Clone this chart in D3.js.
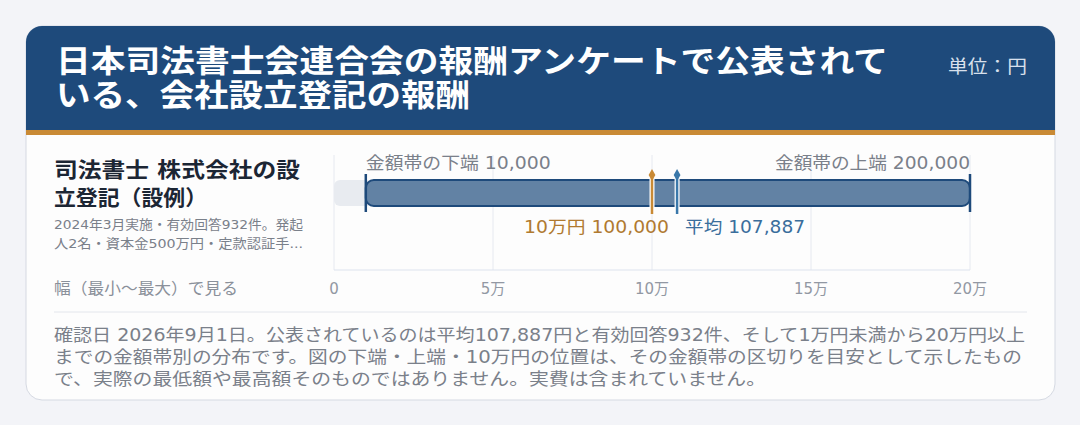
<!DOCTYPE html>
<html lang="ja">
<head>
<meta charset="UTF-8" />
<script src="https://d3js.org/d3.v7.min.js"></script>
<style>
  body { margin: 0; background: #f3f4f8; font-family: "DejaVu Sans", "Noto Sans CJK JP", sans-serif; }
</style>
</head>
<body>
<script>
  // データ
  var rangeMin = 10000
  var rangeMax = 200000
  var refValue = 100000
  var meanValue = 107887
  var ticks = [0, 50000, 100000, 150000, 200000]
  var tickLabels = ['0', '5万', '10万', '15万', '20万']
  var titleLines = ['日本司法書士会連合会の報酬アンケートで公表されて', 'いる、会社設立登記の報酬']
  var footLines = [
    '確認日 2026年9月1日。公表されているのは平均107,887円と有効回答932件、そして1万円未満から20万円以上',
    'までの金額帯別の分布です。図の下端・上端・10万円の位置は、その金額帯の区切りを目安として示したもの',
    'で、実際の最低額や最高額そのものではありません。実費は含まれていません。'
  ]

  var W = 1080, H = 425
  var svg = d3.select('body').append('svg').attr('width', W).attr('height', H)

  // 幅を合わせた文字
  function label(txt, xx, yy, size, color, len, anchor, weight) {
    var t = svg.append('text').attr('x', xx).attr('y', yy).attr('font-size', size)
      .attr('fill', color).attr('text-anchor', anchor || 'start').text(txt)
    if (weight) t.attr('font-weight', weight)
    if (len) t.attr('textLength', len).attr('lengthAdjust', 'spacingAndGlyphs')
    return t
  }

  svg.append('defs').append('clipPath').attr('id', 'card').append('rect')
    .attr('x', 26).attr('y', 26).attr('width', 1029).attr('height', 374).attr('rx', 16)

  svg.append('rect').attr('x', 26).attr('y', 26).attr('width', 1029).attr('height', 374)
    .attr('rx', 16).attr('fill', '#fdfdfd').attr('stroke', '#d5d9e2')
  var card = svg.append('g').attr('clip-path', 'url(#card)')
  card.append('rect').attr('x', 26).attr('y', 26).attr('width', 1029).attr('height', 104).attr('fill', '#1e4a7b')
  card.append('rect').attr('x', 26).attr('y', 130).attr('width', 1029).attr('height', 5).attr('fill', '#c98a35')

  label(titleLines[0], 56, 72, 31, '#fff', 832, 'start', 'bold')
  label(titleLines[1], 56, 106, 31, '#fff', 414, 'start', 'bold')
  label('単位：円', 1027, 73, 18, '#d8e0ec', 79, 'end')

  // 左側
  label('司法書士 株式会社の設', 54, 177, 21, '#1c2634', 246, 'start', 'bold')
  label('立登記（設例）', 54, 205, 21, '#1c2634', 153, 'start', 'bold')
  label('2024年3月実施・有効回答932件。発起', 54, 229, 13, '#7a808a', 249)
  label('人2名・資本金500万円・定款認証手...', 54, 248, 13, '#7a808a', 249)
  label('幅（最小〜最大）で見る', 54, 294, 16, '#8a909a', 184)

  // スケール
  var x = d3.scaleLinear().domain([0, 200000]).range([334, 970])
  var plotTop = 155, axisY = 270

  svg.selectAll('.grid').data(ticks).enter().append('line')
    .attr('x1', function (d) { return x(d) }).attr('x2', function (d) { return x(d) })
    .attr('y1', plotTop).attr('y2', axisY).attr('stroke', '#e6e9f0')
  svg.append('line').attr('x1', x(0)).attr('x2', x(200000)).attr('y1', axisY).attr('y2', axisY).attr('stroke', '#dde3ee')
  ticks.forEach(function (d, i) {
    label(tickLabels[i], x(d), 294, 15, '#9298a3', null, 'middle')
  })

  // 背景バー
  svg.append('rect').attr('x', x(0)).attr('y', 180).attr('width', x(rangeMin) - x(0) + 10).attr('height', 26)
    .attr('rx', 6).attr('fill', '#e8ebf0')
  // 範囲バー
  svg.append('rect').attr('x', x(rangeMin)).attr('y', 180).attr('width', x(rangeMax) - x(rangeMin)).attr('height', 26)
    .attr('rx', 8).attr('fill', '#6282a4').attr('stroke', '#1e4a7b').attr('stroke-width', 2)
  ;[rangeMin, rangeMax].forEach(function (v) {
    svg.append('line').attr('x1', x(v)).attr('x2', x(v)).attr('y1', 174).attr('y2', 212)
      .attr('stroke', '#1e4a7b').attr('stroke-width', 2.5)
  })
  label('金額帯の下端 10,000', x(rangeMin), 169, 17, '#7a808a', 185)
  label('金額帯の上端 200,000', x(rangeMax), 169, 17, '#7a808a', 195, 'end')

  // マーカー
  var markers = [
    { v: refValue, color: '#c98a35', text: '10万円 100,000', anchor: 'end', dx: 17, tc: '#b07a30', len: 145 },
    { v: meanValue, color: '#3a78aa', text: '平均 107,887', anchor: 'start', dx: 8, tc: '#3a6e9c', len: 120 }
  ]
  markers.forEach(function (m) {
    svg.append('line').attr('x1', x(m.v)).attr('x2', x(m.v)).attr('y1', 175).attr('y2', 214)
      .attr('stroke', '#fff').attr('stroke-width', 5)
    svg.append('line').attr('x1', x(m.v)).attr('x2', x(m.v)).attr('y1', 175).attr('y2', 214)
      .attr('stroke', m.color).attr('stroke-width', 2.5)
    svg.append('path').attr('d', d3.symbol(d3.symbolDiamond, 40)())
      .attr('transform', 'translate(' + x(m.v) + ',175)').attr('fill', m.color)
    label(m.text, x(m.v) + m.dx, 233, 17, m.tc, m.len, m.anchor)
  })

  svg.append('line').attr('x1', 54).attr('x2', 1027).attr('y1', 312).attr('y2', 312).attr('stroke', '#e3e6ec')
  var footLens = [971, 968, 712]
  footLines.forEach(function (d, i) {
    label(d, 54, 341 + i * 22, 17, '#7a808a', footLens[i])
  })
</script>
</body>
</html>
